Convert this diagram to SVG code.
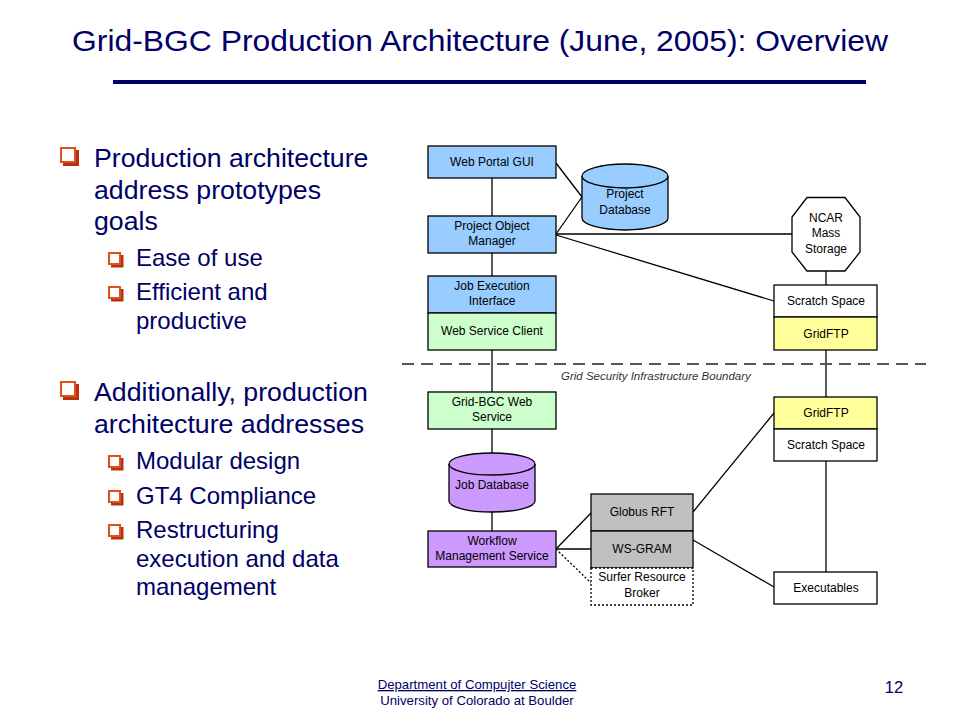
<svg xmlns="http://www.w3.org/2000/svg" width="960" height="720" viewBox="0 0 960 720">
<style>
.t{font-family:"Liberation Sans",Arial,sans-serif;fill:#000066}
.b1{font-size:26.7px}
.b2{font-size:24px}
.n{font-family:"Liberation Sans",Arial,sans-serif;font-size:12px;fill:#000;text-anchor:middle}
.box{stroke:#000;stroke-width:1.3}
.blue{fill:#99CCFF}.green{fill:#CCFFCC}.purple{fill:#CC99FF}.yellow{fill:#FFFF99}.gray{fill:#C0C0C0}.white{fill:#fff}
.ln{stroke:#000;stroke-width:1.3;fill:none}
.bf{fill:#fff;stroke:#E0501A;stroke-width:2}
.bs{fill:#B83010}
</style>
<defs>
<g id="bul1"><rect x="1" y="1" width="14" height="14" class="bf"/><path d="M16 3 h3 v16 h-16 v-3 h13 z" class="bs"/></g>
<g id="bul2"><rect x="1" y="1" width="11" height="11" class="bf"/><path d="M13 3 h2.5 v12.5 h-12.5 v-2.5 h10 z" class="bs"/></g>
</defs>
<rect width="960" height="720" fill="#fff"/>

<g id="title">
<text class="t" x="72" y="51" font-size="30" textLength="816" lengthAdjust="spacingAndGlyphs">Grid-BGC Production Architecture (June, 2005): Overview</text>
<rect x="113" y="80" width="753" height="4" fill="#000066"/>
</g>

<g id="bullets">
<use href="#bul1" x="60" y="147"/>
<text class="t b1" x="94" y="167">Production architecture</text>
<text class="t b1" x="94" y="199">address prototypes</text>
<text class="t b1" x="94" y="230">goals</text>
<use href="#bul2" x="108" y="252"/>
<text class="t b2" x="136" y="266">Ease of use</text>
<use href="#bul2" x="108" y="286"/>
<text class="t b2" x="136" y="300">Efficient and</text>
<text class="t b2" x="136" y="329">productive</text>
<use href="#bul1" x="60" y="381"/>
<text class="t b1" x="94" y="401">Additionally, production</text>
<text class="t b1" x="94" y="433">architecture addresses</text>
<use href="#bul2" x="108" y="455"/>
<text class="t b2" x="136" y="469">Modular design</text>
<use href="#bul2" x="108" y="490"/>
<text class="t b2" x="136" y="504">GT4 Compliance</text>
<use href="#bul2" x="108" y="524"/>
<text class="t b2" x="136" y="538">Restructuring</text>
<text class="t b2" x="136" y="567">execution and data</text>
<text class="t b2" x="136" y="595">management</text>
</g>

<g id="connectors">
<line class="ln" x1="492" y1="178" x2="492" y2="216"/>
<line class="ln" x1="492" y1="253" x2="492" y2="276"/>
<line class="ln" x1="492" y1="350" x2="492" y2="392"/>
<line class="ln" x1="492" y1="429" x2="492" y2="453"/>
<line class="ln" x1="492" y1="512" x2="492" y2="531"/>
<line class="ln" x1="556" y1="163" x2="582" y2="197"/>
<line class="ln" x1="556" y1="234" x2="582" y2="197"/>
<line class="ln" x1="556" y1="234" x2="792" y2="234"/>
<line class="ln" x1="556" y1="235" x2="774" y2="301"/>
<line class="ln" x1="826" y1="271" x2="826" y2="285" stroke="#333"/>
<line class="ln" x1="826" y1="350" x2="826" y2="397" stroke="#333"/>
<line class="ln" x1="826" y1="461" x2="826" y2="572" stroke="#333"/>
<line class="ln" x1="693" y1="512" x2="774" y2="413"/>
<line class="ln" x1="693" y1="540" x2="774" y2="587"/>
<line class="ln" x1="556" y1="549" x2="591" y2="513"/>
<line class="ln" x1="556" y1="549" x2="591" y2="549"/>
<line class="ln" x1="556" y1="549" x2="591" y2="583" stroke-dasharray="2 2"/>
</g>

<g id="boundary">
<line x1="402" y1="364" x2="926" y2="364" stroke="#555" stroke-width="2" stroke-dasharray="12 7"/>
<text x="561" y="380" font-family="'Liberation Sans',Arial,sans-serif" font-size="11.5" font-style="italic" fill="#333">Grid Security Infrastructure Boundary</text>
</g>

<g id="web-portal-gui">
<rect class="box blue" x="428" y="146" width="128" height="32"/>
<text class="n" x="492" y="166">Web Portal GUI</text>
</g>
<g id="project-database">
<path class="box blue" d="M582 176 v42 a43 12 0 0 0 86 0 v-42"/>
<ellipse class="box blue" cx="625" cy="176" rx="43" ry="12"/>
<text class="n" x="625" y="198">Project</text>
<text class="n" x="625" y="214">Database</text>
</g>
<g id="project-object-manager">
<rect class="box blue" x="428" y="216" width="128" height="37"/>
<text class="n" x="492" y="230">Project Object</text>
<text class="n" x="492" y="245">Manager</text>
</g>
<g id="job-execution-interface">
<rect class="box blue" x="428" y="276" width="128" height="37"/>
<text class="n" x="492" y="290">Job Execution</text>
<text class="n" x="492" y="305">Interface</text>
</g>
<g id="web-service-client">
<rect class="box green" x="428" y="313" width="128" height="37"/>
<text class="n" x="492" y="335">Web Service Client</text>
</g>
<g id="ncar-mass-storage">
<polygon class="box white" points="807,197.5 845,197.5 860,217 860,252 845,271 807,271 792,252 792,217"/>
<text class="n" x="826" y="222">NCAR</text>
<text class="n" x="826" y="237">Mass</text>
<text class="n" x="826" y="253">Storage</text>
</g>
<g id="scratch-space-top">
<rect class="box white" x="774" y="285" width="103" height="32"/>
<text class="n" x="826" y="305">Scratch Space</text>
</g>
<g id="gridftp-top">
<rect class="box yellow" x="774" y="317" width="103" height="33"/>
<text class="n" x="826" y="338">GridFTP</text>
</g>
<g id="grid-bgc-web-service">
<rect class="box green" x="428" y="392" width="128" height="37"/>
<text class="n" x="492" y="406">Grid-BGC Web</text>
<text class="n" x="492" y="421">Service</text>
</g>
<g id="gridftp-bottom">
<rect class="box yellow" x="774" y="397" width="103" height="32"/>
<text class="n" x="826" y="417">GridFTP</text>
</g>
<g id="scratch-space-bottom">
<rect class="box white" x="774" y="429" width="103" height="32"/>
<text class="n" x="826" y="449">Scratch Space</text>
</g>
<g id="job-database">
<path class="box purple" d="M449 464 v37 a43 11 0 0 0 86 0 v-37"/>
<ellipse class="box purple" cx="492" cy="464" rx="43" ry="11"/>
<text class="n" x="492" y="489">Job Database</text>
</g>
<g id="workflow-management-service">
<rect class="box purple" x="428" y="531" width="128" height="36"/>
<text class="n" x="492" y="545">Workflow</text>
<text class="n" x="492" y="560">Management Service</text>
</g>
<g id="globus-rft">
<rect class="box gray" x="591" y="494" width="102" height="37"/>
<text class="n" x="642" y="516">Globus RFT</text>
</g>
<g id="ws-gram">
<rect class="box gray" x="591" y="531" width="102" height="37"/>
<text class="n" x="642" y="553">WS-GRAM</text>
</g>
<g id="surfer-resource-broker">
<rect x="591" y="568" width="102" height="37" fill="#fff" stroke="#000" stroke-width="1.3" stroke-dasharray="2 2"/>
<text class="n" x="642" y="581">Surfer Resource</text>
<text class="n" x="642" y="597">Broker</text>
</g>
<g id="executables">
<rect class="box white" x="774" y="572" width="103" height="32"/>
<text class="n" x="826" y="592">Executables</text>
</g>

<g id="footer">
<text class="t" x="477" y="689" font-size="13.2" text-anchor="middle" text-decoration="underline">Department of Compujter Science</text>
<text class="t" x="477" y="705" font-size="13.2" text-anchor="middle">University of Colorado at Boulder</text>
<text class="t" x="894" y="693" font-size="16.5" text-anchor="middle">12</text>
</g>
</svg>
